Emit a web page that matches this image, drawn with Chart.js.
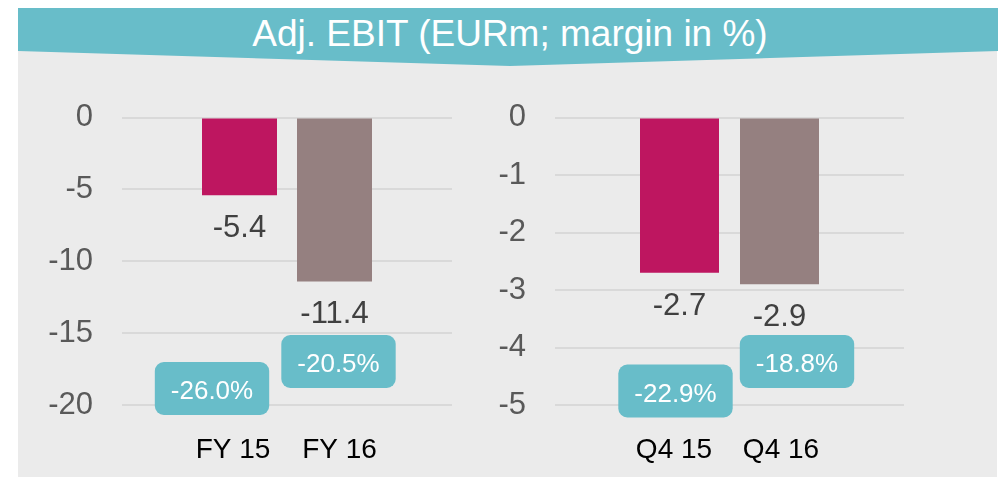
<!DOCTYPE html>
<html>
<head>
<meta charset="utf-8">
<script src="https://cdn.jsdelivr.net/npm/chart.js@4.4.1/dist/chart.umd.min.js"></script>
<style>
  html, body { margin: 0; padding: 0; background: #ffffff; }
  body { width: 1002px; height: 477px; position: relative; overflow: hidden; font-family: 'Liberation Sans', Arial, sans-serif; }
  #panel { position: absolute; left: 18px; top: 50px; width: 979px; height: 427px; background: #ebebeb; }
  #banner { position: absolute; left: 18px; top: 8px; width: 980px; height: 58px; background: #68bdc9;
    clip-path: polygon(0 0, 100% 0, 100% 43px, 492px 58px, 0 43px); }
  #title { position: absolute; left: 0; top: 4px; width: 984px; text-align: center; color: #ffffff;
    font-size: 37px; line-height: 43px; white-space: nowrap; }
  canvas { position: absolute; }
  #c1 { left: 18px; top: 70px; }
  #c2 { left: 498px; top: 70px; }
</style>
</head>
<body>
<div id="panel"></div>
<div id="banner"><div id="title">Adj. EBIT (EURm; margin in %)</div></div>
<canvas id="c1" width="480" height="407"></canvas>
<canvas id="c2" width="499" height="407"></canvas>
<script>
// ---- data ----
const leftCategories = ['FY 15', 'FY 16'];
const leftValues = [-5.4, -11.4];
const leftMargins = [-26.0, -20.5];
const leftTicks = [0, -5, -10, -15, -20];

const rightCategories = ['Q4 15', 'Q4 16'];
const rightValues = [-2.7, -2.9];
const rightMargins = [-22.9, -18.8];
const rightTicks = [0, -1, -2, -3, -4, -5];

// ---- styles ----
const barColors = ['#be1660', '#958080'];
const teal = '#68bdc9';
const FONT = "'Liberation Sans', Arial, sans-serif";

Chart.defaults.font.family = FONT;

const annotate = {
  id: 'annotate',
  afterDatasetsDraw(chart, args, o) {
    const ctx = chart.ctx;
    const area = chart.chartArea;
    ctx.save();
    o.categories.forEach((cat, i) => {
      const bar = chart.getDatasetMeta(i).data[0];
      const x = bar.x;
      // value label under bar
      ctx.font = '31px ' + FONT;
      ctx.fillStyle = '#404040';
      ctx.textAlign = 'center';
      ctx.textBaseline = 'alphabetic';
      ctx.fillText(o.values[i].toFixed(1), x, bar.y + 42);
      // category label
      ctx.font = '28px ' + FONT;
      ctx.fillStyle = '#000000';
      ctx.fillText(cat, x + o.labelShift[i], area.bottom + 53);
      // margin box
      const txt = o.margins[i].toFixed(1) + '%';
      ctx.font = '26px ' + FONT;
      const w = ctx.measureText(txt).width + 32;
      const h = 53;
      const cx = x + o.boxShift[i];
      const cy = area.bottom - o.boxRise[i];
      ctx.fillStyle = teal;
      ctx.beginPath();
      ctx.roundRect(cx - w / 2, cy - h / 2, w, h, 9);
      ctx.fill();
      ctx.fillStyle = '#ffffff';
      ctx.fillText(txt, cx, cy + 10.5);
    });
    ctx.restore();
  }
};

function makeChart(id, categories, values, margins, ticks, axisWidth, padRight, catPct, barPct, labelShift, boxShift, boxRise) {
  const datasets = categories.map((c, i) => ({
    label: c,
    data: [values[i]],
    backgroundColor: barColors[i],
    borderWidth: 0
  }));
  return new Chart(document.getElementById(id), {
    type: 'bar',
    data: { labels: [''], datasets },
    plugins: [annotate],
    options: {
      responsive: false,
      animation: false,
      devicePixelRatio: 1,
      categoryPercentage: catPct,
      barPercentage: barPct,
      layout: { padding: { top: 46, right: padRight, bottom: 72, left: 0 } },
      plugins: {
        legend: { display: false },
        tooltip: { enabled: false },
        annotate: { categories, values, margins, labelShift, boxShift, boxRise }
      },
      scales: {
        x: { display: false },
        y: {
          min: Math.min(...ticks),
          max: Math.max(...ticks),
          ticks: {
            stepSize: Math.abs(ticks[1] - ticks[0]),
            color: '#595959',
            font: { size: 31 },
            padding: 29
          },
          grid: { color: '#d9d9d9', lineWidth: 2, drawTicks: false },
          border: { display: false },
          afterFit(scale) { scale.width = axisWidth; }
        }
      }
    }
  });
}

makeChart('c1', leftCategories, leftValues, leftMargins, leftTicks, 104, 46, 190 / 330, 75 / 95,
  [-6.5, 5], [-27.5, 4], [16.5, 43.5]);
makeChart('c2', rightCategories, rightValues, rightMargins, rightTicks, 57, 93, 200 / 349, 79 / 100,
  [-5.5, 1.5], [-4, 17.5], [14, 43.5]);
</script>
</body>
</html>
